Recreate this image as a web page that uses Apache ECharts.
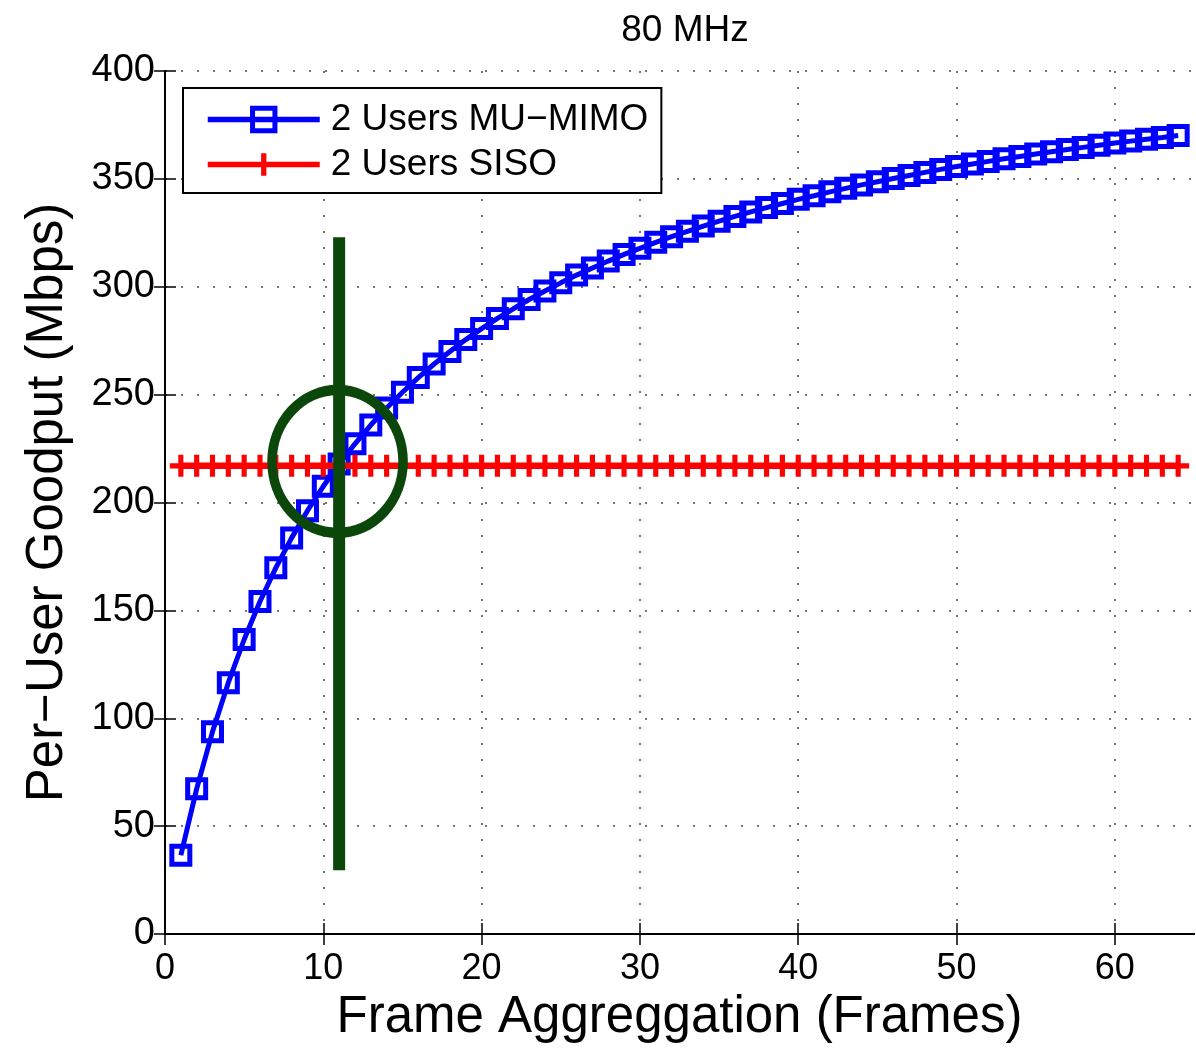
<!DOCTYPE html>
<html>
<head>
<meta charset="utf-8">
<script src="https://cdn.jsdelivr.net/npm/echarts@6/dist/echarts.min.js"></script>
<style>
  html, body { margin: 0; padding: 0; background: #fff; }
  #chart { width: 1196px; height: 1048px; }
</style>
</head>
<body>
<div id="chart"></div>
<script>
// frame aggregation (frames)
const frames = [];
for (let i = 1; i <= 64; i++) frames.push(i);

// per-user goodput (Mbps)
const muMimo = [36.5, 67.3, 93.7, 116.5, 136.5, 154.1, 169.7, 183.6, 196.2, 207.5,
  217.8, 227.2, 235.9, 243.8, 251.1, 257.9, 264.2, 270.0, 275.5, 280.6,
  285.3, 289.8, 294.1, 298.0, 301.8, 305.4, 308.7, 311.9, 315.0, 317.8,
  320.6, 323.2, 325.7, 328.1, 330.4, 332.6, 334.7, 336.7, 338.6, 340.5,
  342.2, 344.0, 345.6, 347.2, 348.7, 350.2, 351.6, 353.0, 354.4, 355.7,
  356.9, 358.1, 359.3, 360.4, 361.5, 362.6, 363.6, 364.6, 365.6, 366.6,
  367.5, 368.4, 369.2, 370.1];
const sisoValue = 217;
const siso = frames.map(() => sisoValue);

const xTicks = [0, 10, 20, 30, 40, 50, 60];

// hand drawn annotation: vertical stroke and circle
const markX = 11;
const markLineY = [29.5, 323];
const circleCenter = [10.9, 219];

const font = '"Liberation Sans", Arial, Helvetica, sans-serif';
const green = '#0b470b';
const plusPath = 'path://M-0.7,-3 H0.7 V-0.7 H3 V0.7 H0.7 V3 H-0.7 V0.7 H-3 V-0.7 H-0.7 Z';

const gridLine = { show: true, lineStyle: { color: '#444', type: [2, 14], width: 1.5 } };
const tick = { inside: true, length: 11, lineStyle: { color: '#000', width: 1.5 } };

const chart = echarts.init(document.getElementById('chart'));
chart.setOption({
  animation: false,
  backgroundColor: '#fff',
  textStyle: { fontFamily: font },
  title: {
    text: '80 MHz',
    left: 680, top: 7, textAlign: 'center',
    textStyle: { fontFamily: font, fontSize: 37, fontWeight: 'normal', color: '#000' }
  },
  legend: {
    left: 183, top: 88,
    orient: 'vertical',
    data: ['2 Users MU−MIMO', '2 Users SISO'],
    itemWidth: 112, itemHeight: 28, itemGap: 8,
    padding: [13, 13, 10, 22],
    borderColor: '#000', borderWidth: 2,
    backgroundColor: '#fff',
    lineStyle: { width: 5.5 },
    itemStyle: { borderWidth: 'inherit' },
    textStyle: { fontFamily: font, fontSize: 37, color: '#000', padding: [0, 0, 0, 6] }
  },
  grid: { left: 165, right: 2, top: 71, bottom: 111 },
  xAxis: [{
    type: 'value', min: 0, max: 65, interval: 10,
    name: 'Frame Aggreggation (Frames)', nameLocation: 'middle', nameGap: 58,
    nameTextStyle: { fontFamily: font, fontSize: 51, color: '#000' },
    axisLine: { onZero: false, lineStyle: { color: '#000', width: 2 } },
    axisTick: Object.assign({ customValues: xTicks }, tick),
    axisLabel: { fontFamily: font, fontSize: 36, color: '#000', margin: 17, customValues: xTicks },
    splitLine: gridLine
  }, {
    type: 'value', min: 0, max: 65, interval: 10, position: 'top',
    axisLine: { lineStyle: { color: '#000', width: 2 } },
    axisTick: Object.assign({ customValues: xTicks }, tick),
    axisLabel: { show: false }, splitLine: { show: false }
  }],
  yAxis: [{
    type: 'value', min: 0, max: 400, interval: 50,
    name: 'Per−User Goodput (Mbps)', nameLocation: 'middle', nameGap: 92,
    nameTextStyle: { fontFamily: font, fontSize: 51, color: '#000' },
    axisLine: { show: true, onZero: false, lineStyle: { color: '#000', width: 2 } },
    axisTick: Object.assign({ show: true }, tick),
    axisLabel: { fontFamily: font, fontSize: 38, color: '#000', margin: 10 },
    splitLine: gridLine
  }, {
    type: 'value', min: 0, max: 400, interval: 50, position: 'right',
    axisLine: { show: true, lineStyle: { color: '#000', width: 2 } },
    axisTick: Object.assign({ show: true }, tick),
    axisLabel: { show: false }, splitLine: { show: false }
  }],
  series: [{
    name: '2 Users MU−MIMO', type: 'line',
    data: frames.map((f, i) => [f, muMimo[i]]),
    lineStyle: { color: '#0000ff', width: 5 },
    symbol: 'rect', symbolSize: 18, showAllSymbol: true,
    itemStyle: { color: 'rgba(255,255,255,0)', borderColor: '#0000ff', borderWidth: 5 },
    z: 2
  }, {
    name: '2 Users SISO', type: 'line',
    data: frames.map((f, i) => [f, siso[i]]),
    lineStyle: { color: '#ff0000', width: 6.5 },
    symbol: plusPath, symbolSize: 22, showAllSymbol: true,
    itemStyle: { color: '#ff0000', borderWidth: 0 },
    z: 3
  }, {
    name: 'stroke', type: 'line',
    data: [[markX, markLineY[0]], [markX, markLineY[1]]],
    lineStyle: { color: green, width: 12 },
    symbol: 'none', silent: true, z: 4
  }, {
    name: 'circle', type: 'scatter',
    data: [circleCenter],
    symbol: 'circle', symbolSize: [131, 143],
    itemStyle: { color: 'rgba(0,0,0,0)', borderColor: green, borderWidth: 10, opacity: 1 },
    silent: true, z: 5
  }]
});
</script>
</body>
</html>
